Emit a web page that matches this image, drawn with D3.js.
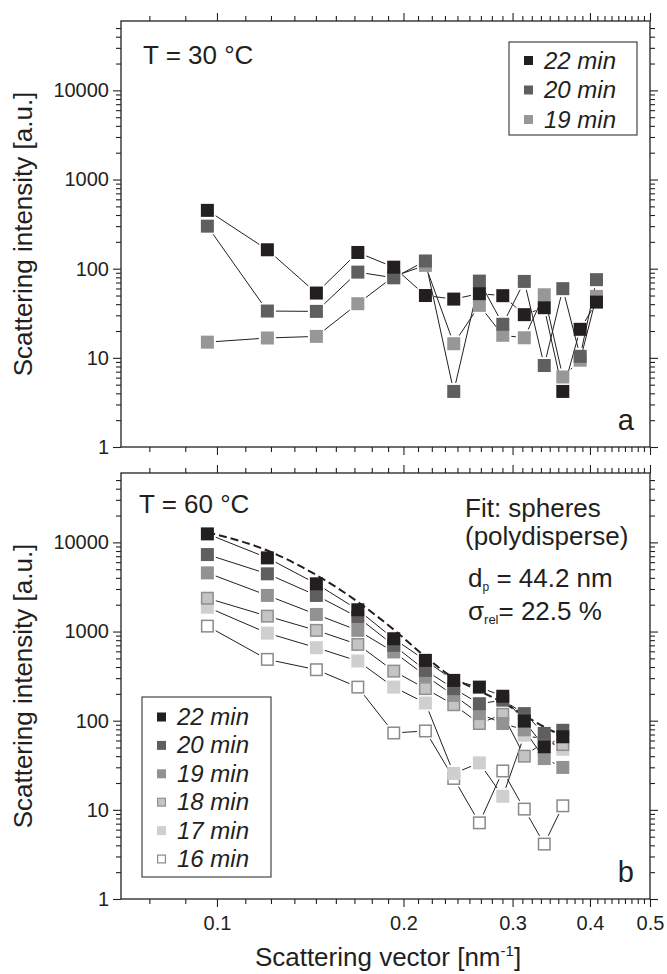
<!DOCTYPE html>
<html lang="en">
<head>
<meta charset="UTF-8">
<title>Scattering intensity</title>
<script src="https://cdn.jsdelivr.net/npm/d3@7"></script>
<style>
    body { margin: 0; background: #fff; }
    svg text { font-family: "Liberation Sans", Arial, Helvetica, sans-serif; fill: #231f20; }
</style>
</head>
<body>
<div id="chart"></div>
<script>
// scattering vector of the measured points [nm^-1]
var qValues = [0.0965, 0.1206, 0.1447, 0.1688, 0.1929, 0.2170, 0.2411, 0.2652, 0.2893, 0.3134, 0.3375, 0.3616, 0.3857, 0.4098];

// panel a, T = 30 °C
var a22 = [451, 163, 53.3, 152, 104, 50, 45.6, 52.5, 49.8, 30.5, 36.5, 4.2, 20.9, 42.2];
var a20 = [300, 33.5, 33.2, 91.5, 79, 122, 4.2, 72.6, 23.8, 72, 8.2, 59.7, 10.4, 75.3];
var a19 = [15, 16.7, 17.4, 40.5, 82, 109, 14.4, 38.8, 17.9, 16.8, 51, 6.1, 9.4, 48.9];

// panel b, T = 60 °C (first 12 q values)
var b22 = [12450, 6700, 3430, 1755, 830, 475, 283, 238, 188, 99, 51, 66];
var b20 = [7300, 4440, 2540, 1450, 700, 367, 229, 155, 170, 120, 72, 78];
var b19 = [4550, 2540, 1555, 1030, 590, 320, 192, 120, 93, 79, 37.6, 29.9];
var b18 = [2365, 1488, 1030, 717, 360, 229, 151, 93, 118, 40, 58, 54];
var b17 = [1875, 960, 659, 467, 238, 158, 25.6, 33.6, 14.2, 68.7, 62, 47.8];
var b16 = [1150, 487, 373, 238, 72.8, 76.7, 22.5, 7.15, 27.3, 10.2, 4.13, 11.1];
// polydisperse sphere fit
var bFit = [13000, 8100, 4300, 2150, 1050, 520, 300, 215, 160, 115, 85, 68];

var xTicks = [0.1, 0.2, 0.3, 0.4, 0.5];
var yTicks = [1, 10, 100, 1000, 10000];

var width = 667, height = 974;
var left = 121, right = 650;
var ink = '#231f20';

var svg = d3.select('#chart').append('svg')
    .attr('width', width)
    .attr('height', height);

var x = d3.scaleLog().domain([0.07, 0.5]).range([left, right]);

// minor ticks: 8 per 0.1 on x, 2..9 per decade on y
var xMinor = [];
for (var k = 0; k < 5; k++) {
    for (var j = 1; j < 9; j++) {
        var v = (k + j / 9) * 0.1;
        if (v >= 0.07 && v <= 0.5) xMinor.push(v);
    }
}
var yMinor = [];
for (var e = 0; e < 5; e++) {
    for (var m = 2; m < 10; m++) {
        if (m * Math.pow(10, e) < 60000) yMinor.push(m * Math.pow(10, e));
    }
}

var panels = [
    {
        top: 21, bottom: 447, labels: false, title: 'T = 30 °C', titleX: 143, titleY: 64, letter: 'a',
        series: [
            {name: '19 min', values: a19, fill: '#979797', stroke: 'none'},
            {name: '20 min', values: a20, fill: '#5f5f5f', stroke: 'none'},
            {name: '22 min', values: a22, fill: ink, stroke: 'none'}
        ],
        legend: {x0: 509, y0: 42, w: 128, h: 93, first: 68.5, step: 29.5}
    },
    {
        top: 473, bottom: 899, labels: true, title: 'T = 60 °C', titleX: 139, titleY: 513, letter: 'b',
        series: [
            {name: '16 min', values: b16, fill: '#ffffff', stroke: '#8a8a8a'},
            {name: '17 min', values: b17, fill: '#cfcfcf', stroke: 'none'},
            {name: '18 min', values: b18, fill: '#c4c4c4', stroke: '#8f8f8f'},
            {name: '19 min', values: b19, fill: '#929292', stroke: 'none'},
            {name: '20 min', values: b20, fill: '#5f5f5f', stroke: 'none'},
            {name: '22 min', values: b22, fill: ink, stroke: 'none'}
        ],
        fit: bFit,
        legend: {x0: 142, y0: 697, w: 129, h: 180, first: 725, step: 28.4}
    }
];

// line pieces between points, stopped short of the square markers
function segments(pts, half, gap) {
    var out = [];
    for (var i = 0; i < pts.length - 1; i++) {
        var p = pts[i], q = pts[i + 1];
        var dx = q[0] - p[0], dy = q[1] - p[1];
        var len = Math.sqrt(dx * dx + dy * dy);
        var ux = dx / len, uy = dy / len;
        var t = half / Math.max(Math.abs(ux), Math.abs(uy)) + gap;
        if (len > 2 * t) out.push([p[0] + ux * t, p[1] + uy * t, q[0] - ux * t, q[1] - uy * t]);
    }
    return out;
}

panels.forEach(function (p) {
    var y = d3.scaleLog().domain([1, 60000]).range([p.bottom, p.top]);
    var g = svg.append('g');

    // axes on all four sides, ticks outward
    function addAxis(axis, tf) {
        var a = g.append('g').attr('transform', tf).call(axis);
        a.attr('font-size', 20);
        a.select('.domain').remove();
        a.selectAll('line').attr('stroke', ink).attr('stroke-width', 1.1);
        a.selectAll('text').style('font-size', '20px').attr('fill', ink);
        return a;
    }
    addAxis(d3.axisLeft(y).tickValues(yTicks).tickFormat(d3.format('d')).tickSize(8).tickPadding(4), 'translate(' + left + ',0)');
    addAxis(d3.axisLeft(y).tickValues(yMinor).tickFormat('').tickSize(5), 'translate(' + left + ',0)');
    addAxis(d3.axisRight(y).tickValues(yTicks).tickFormat('').tickSize(8), 'translate(' + right + ',0)');
    addAxis(d3.axisRight(y).tickValues(yMinor).tickFormat('').tickSize(5), 'translate(' + right + ',0)');

    var xb = addAxis(d3.axisBottom(x).tickValues(xTicks).tickFormat(p.labels ? d3.format('.1f') : '').tickSize(8).tickPadding(6), 'translate(0,' + p.bottom + ')');
    xb.selectAll('text').attr('dy', '0.85em');
    addAxis(d3.axisBottom(x).tickValues(xMinor).tickFormat('').tickSize(5), 'translate(0,' + p.bottom + ')');
    addAxis(d3.axisTop(x).tickValues(xTicks).tickFormat('').tickSize(8), 'translate(0,' + p.top + ')');
    addAxis(d3.axisTop(x).tickValues(xMinor).tickFormat('').tickSize(5), 'translate(0,' + p.top + ')');

    g.append('rect')
        .attr('x', left).attr('y', p.top)
        .attr('width', right - left).attr('height', p.bottom - p.top)
        .attr('fill', 'none').attr('stroke', ink).attr('stroke-width', 1.3);

    // fit curve
    if (p.fit) {
        g.append('path')
            .datum(p.fit)
            .attr('fill', 'none')
            .attr('stroke', ink)
            .attr('stroke-width', 2)
            .attr('stroke-dasharray', '8,4')
            .attr('d', d3.line()
                .x(function (d, i) { return x(qValues[i]); })
                .y(function (d) { return y(d); })
                .curve(d3.curveMonotoneX));
    }

    var size = 13;
    // connecting lines first, then markers
    p.series.forEach(function (s) {
        var pts = s.values.map(function (v, i) { return [x(qValues[i]), y(v)]; });
        g.append('g').selectAll('line')
            .data(segments(pts, size / 2, 2))
            .enter().append('line')
            .attr('x1', function (d) { return d[0]; })
            .attr('y1', function (d) { return d[1]; })
            .attr('x2', function (d) { return d[2]; })
            .attr('y2', function (d) { return d[3]; })
            .attr('stroke', ink)
            .attr('stroke-width', 1);
    });
    p.series.forEach(function (s) {
        var inset = s.stroke === 'none' ? 0 : 0.75;
        g.append('g').selectAll('rect')
            .data(s.values)
            .enter().append('rect')
            .attr('x', function (d, i) { return x(qValues[i]) - size / 2 + inset; })
            .attr('y', function (d) { return y(d) - size / 2 + inset; })
            .attr('width', size - 2 * inset)
            .attr('height', size - 2 * inset)
            .attr('fill', s.fill)
            .attr('stroke', s.stroke)
            .attr('stroke-width', 1.5);
    });

    // legend, newest first
    var L = p.legend;
    var lg = g.append('g');
    lg.append('rect')
        .attr('x', L.x0).attr('y', L.y0).attr('width', L.w).attr('height', L.h)
        .attr('fill', '#fff').attr('stroke', '#333').attr('stroke-width', 1.1);
    var items = p.series.slice().reverse();
    items.forEach(function (s, i) {
        var by = L.first + i * L.step;
        var ins = s.stroke === 'none' ? 0 : 0.6;
        lg.append('rect')
            .attr('x', L.x0 + 15 + ins).attr('y', by - 12.5 + ins)
            .attr('width', 9 - 2 * ins).attr('height', 9 - 2 * ins)
            .attr('fill', s.fill).attr('stroke', s.stroke).attr('stroke-width', 1.2);
        lg.append('text')
            .attr('x', L.x0 + 35).attr('y', by)
            .style('font-size', '24px').style('font-style', 'italic')
            .text(s.name);
    });

    g.append('text').attr('x', p.titleX).attr('y', p.titleY)
        .style('font-size', '26px').text(p.title);
    g.append('text').attr('x', 634).attr('y', p.bottom - 17)
        .attr('text-anchor', 'end')
        .style('font-size', '29px').text(p.letter);

    g.append('text')
        .attr('transform', 'translate(32,' + (p.top + p.bottom) / 2 + ') rotate(-90)')
        .attr('text-anchor', 'middle')
        .style('font-size', '26px')
        .text('Scattering intensity [a.u.]');
});

// fit annotation in panel b
var note = svg.append('g').style('font-size', '26px');
note.append('text').attr('x', 465).attr('y', 517).text('Fit: spheres');
note.append('text').attr('x', 465).attr('y', 545).text('(polydisperse)');
var dp = note.append('text').attr('x', 468).attr('y', 587);
dp.append('tspan').text('d');
dp.append('tspan').attr('dy', 4).style('font-size', '12px').text('p');
dp.append('tspan').attr('dy', -4).text(' = 44.2 nm');
var sg = note.append('text').attr('x', 468).attr('y', 620);
sg.append('tspan').text('σ');
sg.append('tspan').attr('dy', 4).style('font-size', '13px').text('rel');
sg.append('tspan').attr('dy', -4).text('= 22.5 %');

// x axis title
var xt = svg.append('text')
    .attr('x', 388).attr('y', 966)
    .attr('text-anchor', 'middle')
    .style('font-size', '26px');
xt.append('tspan').text('Scattering vector [nm');
xt.append('tspan').attr('dy', -10).style('font-size', '15px').text('-1');
xt.append('tspan').attr('dy', 10).text(']');
</script>
</body>
</html>
